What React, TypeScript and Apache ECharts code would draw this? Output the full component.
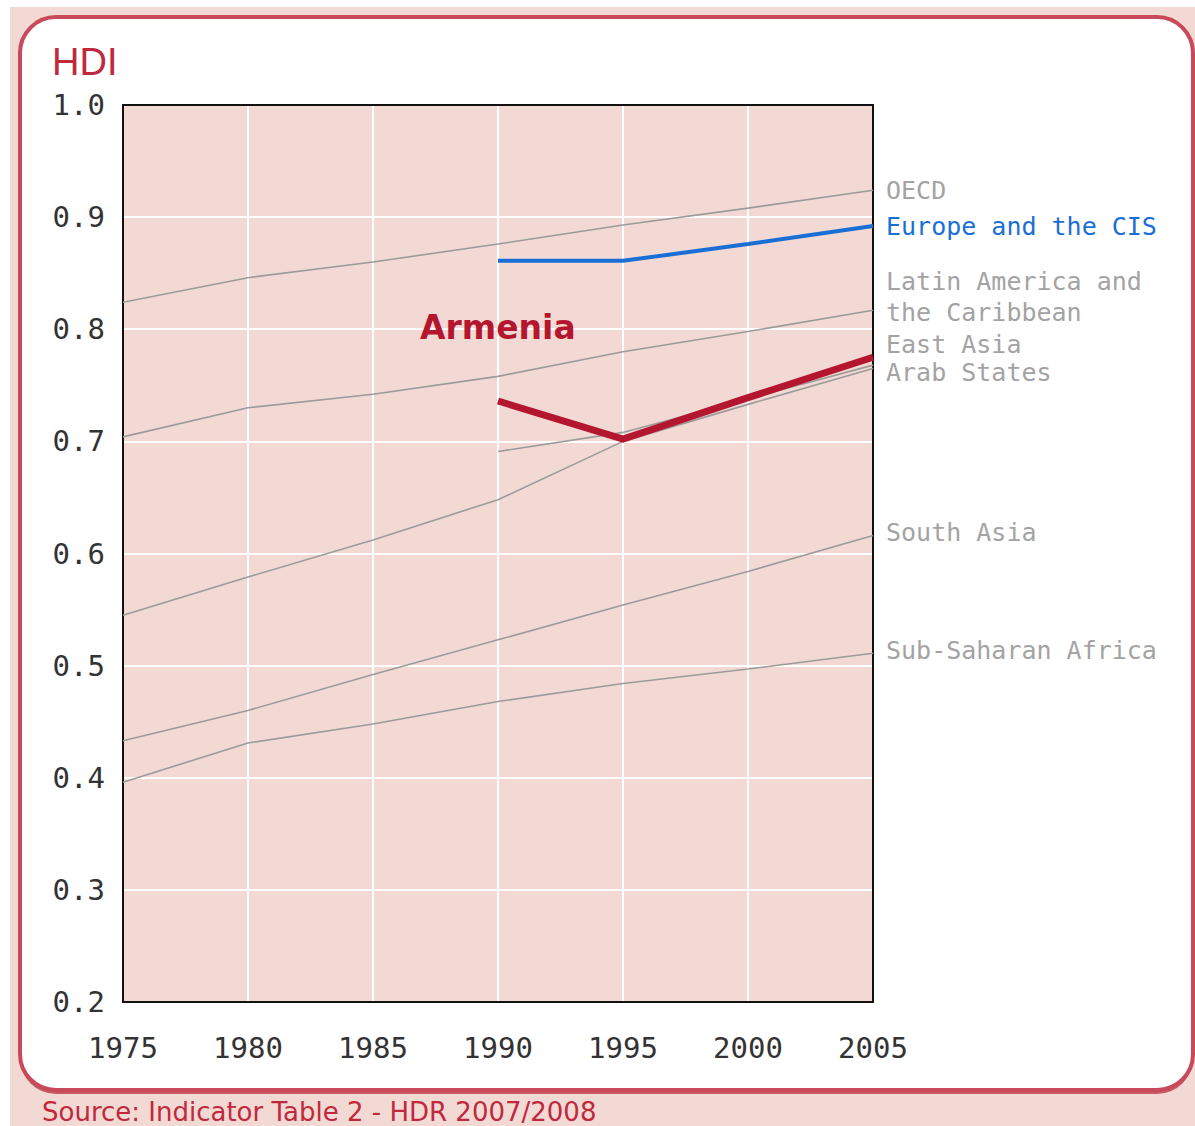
import React, { useEffect, useRef } from "react";
import * as echarts from "echarts";

const years = [1975, 1980, 1985, 1990, 1995, 2000, 2005];
const yTicks = [0.2, 0.3, 0.4, 0.5, 0.6, 0.7, 0.8, 0.9, 1.0];

const oecd = [0.824, 0.846, 0.86, 0.876, 0.893, 0.908, 0.924];
const europeCIS = [null, null, null, 0.861, 0.861, 0.876, 0.892];
const latinAmerica = [0.704, 0.73, 0.742, 0.758, 0.78, 0.798, 0.817];
const eastAsia = [null, null, null, 0.691, 0.708, 0.738, 0.768];
const arabStates = [0.545, 0.579, 0.612, 0.648, 0.7, 0.733, 0.765];
const southAsia = [0.433, 0.46, 0.492, 0.523, 0.554, 0.584, 0.616];
const subSaharan = [0.396, 0.431, 0.448, 0.468, 0.484, 0.497, 0.511];
const armenia = [null, null, null, 0.736, 0.702, 0.739, 0.775];

const RED = "#c0283e";
const GRAY = "#9b9b9b";
const LABEL_GRAY = "#a3a3a3";
const BLUE = "#1a6fd6";
const ARMENIA_RED = "#b5162f";
const MONO = "DejaVu Sans Mono";
const FRAME = { show: true, lineStyle: { color: "#111111", width: 2 } };

function pairs(vals: (number | null)[]) {
  const out: [number, number][] = [];
  vals.forEach((v, i) => {
    if (v !== null) out.push([years[i], v]);
  });
  return out;
}

function graySeries(name: string, vals: (number | null)[], label: string, offsetY: number) {
  return {
    type: "line",
    name,
    data: pairs(vals),
    symbol: "none",
    lineStyle: { color: GRAY, width: 1.6 },
    z: 3,
    endLabel: {
      show: true,
      formatter: label,
      color: LABEL_GRAY,
      fontFamily: MONO,
      fontSize: 25,
      lineHeight: 31,
      distance: 13,
      offset: [0, offsetY],
    },
  };
}

export default function App() {
  const ref = useRef<HTMLDivElement>(null);
  useEffect(() => {
    if (!ref.current) return;
    const chart = echarts.init(ref.current, null, { renderer: "svg" });
    const frameAxis = {
      type: "value",
      axisLine: FRAME,
      axisTick: { show: false },
      axisLabel: { show: false },
      splitLine: { show: false },
    };
    chart.setOption({
      animation: false,
      backgroundColor: "#ffffff",
      graphic: [
        { type: "rect", z: -5, shape: { x: 10, y: 7, width: 1185, height: 1119 }, style: { fill: "#f3d9d3" } },
        { type: "rect", z: -4, shape: { x: 20, y: 21, width: 1173, height: 1073, r: 36 }, style: { fill: "#c85a68" } },
        { type: "rect", z: -3, shape: { x: 20, y: 17, width: 1173, height: 1073, r: 36 }, style: { fill: "#ffffff", stroke: "#c8495a", lineWidth: 4 } },
        { type: "text", z: 100, x: 52, y: 62, style: { text: "HDI", fill: RED, font: "38px 'Liberation Sans'", textVerticalAlign: "middle" } },
        { type: "text", z: 100, x: 420, y: 327, style: { text: "Armenia", fill: ARMENIA_RED, font: "bold 33px 'DejaVu Sans'", textVerticalAlign: "middle" } },
        { type: "text", z: 100, x: 42, y: 1112, style: { text: "Source: Indicator Table 2 - HDR 2007/2008", fill: RED, font: "26px 'DejaVu Sans'", textVerticalAlign: "middle" } },
      ],
      grid: {
        left: 123,
        top: 105,
        right: 322,
        bottom: 124,
        show: true,
        backgroundColor: "#f3d9d3",
        borderWidth: 0,
      },
      xAxis: [
        {
          type: "value",
          min: years[0],
          max: years[years.length - 1],
          interval: 5,
          axisLine: FRAME,
          axisTick: { show: false },
          splitLine: { show: true, lineStyle: { color: "#ffffff", width: 2 } },
          axisLabel: {
            margin: 31,
            color: "#333333",
            fontFamily: MONO,
            fontSize: 29,
            formatter: (v: number) => String(v),
          },
        },
        { ...frameAxis, position: "top", min: years[0], max: years[years.length - 1] },
      ],
      yAxis: [
        {
          type: "value",
          min: yTicks[0],
          max: yTicks[yTicks.length - 1],
          interval: 0.1,
          axisLine: FRAME,
          axisTick: { show: false },
          splitLine: { show: true, lineStyle: { color: "#ffffff", width: 2 } },
          axisLabel: {
            margin: 18,
            color: "#333333",
            fontFamily: MONO,
            fontSize: 29,
            formatter: (v: number) => v.toFixed(1),
          },
        },
        { ...frameAxis, position: "right", min: yTicks[0], max: yTicks[yTicks.length - 1] },
      ],
      series: [
        graySeries("OECD", oecd, "OECD", 0),
        graySeries("Latin America and the Caribbean", latinAmerica, "Latin America and\nthe Caribbean", -13),
        graySeries("East Asia", eastAsia, "East Asia", -21),
        graySeries("Arab States", arabStates, "Arab States", 4),
        graySeries("South Asia", southAsia, "South Asia", -3),
        graySeries("Sub-Saharan Africa", subSaharan, "Sub-Saharan Africa", -3),
        {
          type: "line",
          name: "Europe and the CIS",
          data: pairs(europeCIS),
          symbol: "none",
          z: 4,
          lineStyle: { color: BLUE, width: 4 },
          endLabel: {
            show: true,
            formatter: "Europe and the CIS",
            color: BLUE,
            fontFamily: MONO,
            fontSize: 25,
            distance: 13,
          },
        },
        {
          type: "line",
          name: "Armenia",
          data: pairs(armenia),
          symbol: "none",
          z: 5,
          lineStyle: { color: ARMENIA_RED, width: 7, join: "miter" },
        },
      ],
    });
    return () => chart.dispose();
  }, []);
  return (
    <div
      ref={ref}
      style={{ position: "absolute", left: 0, top: 0, width: 1195, height: 1126 }}
    />
  );
}
